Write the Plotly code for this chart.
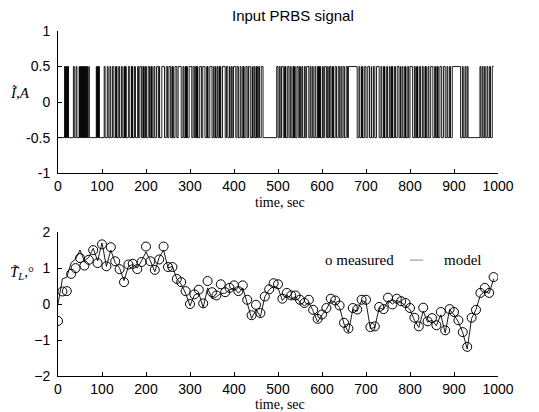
import plotly.graph_objects as go

# ---- top panel: PRBS input, switch times in sec (signal starts low, every switch toggles)
prbs_switch_t = [
    15, 16, 17, 18, 19, 20, 21, 22, 23, 24,
    35, 37, 41, 43,
    48, 49, 50, 51, 52, 53, 54, 55, 56, 57, 58, 59, 60, 61, 62, 63, 64, 65, 66, 67,
    70, 71,
    87, 88, 89, 90, 91, 92, 93, 94,
    105, 107, 112, 114, 118, 120, 124, 127, 131, 132, 133, 134, 138, 140, 144, 146,
    150, 151, 152, 153, 154, 155, 160, 163, 167, 168, 169, 170, 174, 176, 181, 183,
    186, 190, 193, 194, 195, 196, 199, 201,
    205, 208, 211, 212, 213, 214, 218, 220, 224, 228, 230, 231, 236, 242, 246, 249,
    252, 256, 259, 260, 261, 262, 266, 270, 273, 280, 284, 286, 289, 290, 291, 292,
    293, 294, 298, 304,
    307, 310, 313, 314, 315, 316, 317, 318, 322, 326, 329, 334, 338, 339, 340, 341,
    345, 350, 353, 355, 358, 359, 362, 364, 367, 368, 369, 370, 374, 380, 383, 386,
    390, 391, 394, 396, 399, 404,
    407, 410, 414, 416, 420, 421, 422, 423, 427, 430, 433, 437, 441, 442, 445, 447,
    450, 451, 452, 453, 456, 458, 462, 466, 497, 500,
    503, 505, 508, 512, 515, 516, 517, 518, 522, 525, 528, 530, 534, 535, 536, 537,
    538, 539, 543, 546, 549, 551, 554, 556, 560, 562, 565, 570, 573, 575, 578, 580,
    584, 586, 590, 591, 592, 593, 594, 595, 596, 597, 601, 603,
    606, 610, 613, 614, 617, 620, 623, 624, 625, 626, 630, 633, 637, 640, 643, 645,
    648, 651, 655, 658, 660, 680, 684, 686, 690, 691, 692, 693, 697, 700,
    704, 708, 712, 713, 717, 720, 724, 730, 734, 736, 740, 741, 742, 743, 747, 749,
    753, 755, 758, 759, 760, 761, 765, 767, 771, 775, 778, 779, 782, 784, 788, 789,
    790, 791, 795, 797,
    800, 806, 810, 812, 815, 816, 817, 818, 822, 824, 828, 830, 834, 835, 836, 837,
    841, 843, 847, 852, 856, 858, 861, 862, 863, 864, 868, 872, 876, 880, 884, 886,
    890, 892,
    896, 915, 919, 921, 925, 927, 930, 932, 959, 961, 964, 966, 969, 971, 975, 977,
    981, 983, 987,
]
prbs_end_t = 990
prbs_lo, prbs_hi = -0.5, 0.5

# ---- bottom panel: temperature response, every 10 sec
t_meas = list(range(0, 1000, 10))
measured = [
    -0.47, 0.35, 0.36, 0.84, 1.00, 1.28, 1.07, 1.23, 1.50, 1.14,
    1.66, 1.05, 1.58, 1.19, 0.97, 0.61, 1.10, 1.12, 0.97, 1.17,
    1.60, 1.19, 0.95, 1.24, 1.60, 1.03, 1.03, 0.70, 0.61, 0.36,
    0.00, 0.27, 0.40, 0.02, 0.64, 0.33, 0.24, 0.55, 0.33, 0.45,
    0.52, 0.36, 0.52, 0.12, -0.31, -0.02, -0.25, 0.21, 0.41, 0.58,
    0.55, 0.15, 0.31, 0.24, 0.24, 0.12, 0.03, 0.12, -0.16, -0.41,
    -0.29, -0.11, 0.15, 0.10, -0.04, -0.52, -0.68, -0.11, -0.15, 0.12,
    0.12, -0.64, -0.62, -0.08, -0.14, 0.18, -0.01, 0.15, 0.08, 0.03,
    -0.11, -0.38, -0.62, -0.10, -0.48, -0.39, -0.59, -0.22, -0.73, -0.14,
    -0.22, -0.45, -0.78, -1.19, -0.38, -0.16, 0.31, 0.45, 0.31, 0.75,
]
model = [
    0.00, 0.70, 0.75, 1.15, 1.25, 1.50, 1.20, 1.30, 1.55, 1.20,
    1.70, 1.05, 1.50, 1.15, 1.00, 0.65, 1.05, 1.10, 1.00, 1.20,
    1.45, 1.20, 0.90, 1.30, 1.50, 1.00, 1.05, 0.70, 0.55, 0.30,
    -0.05, 0.25, 0.30, -0.10, 0.45, 0.15, 0.20, 0.30, 0.30, 0.40,
    0.45, 0.30, 0.45, 0.05, -0.40, -0.15, -0.35, 0.20, 0.40, 0.50,
    0.45, 0.10, 0.25, 0.15, 0.20, 0.05, -0.05, 0.05, -0.20, -0.50,
    -0.30, -0.15, 0.10, 0.05, -0.10, -0.55, -0.78, -0.15, -0.20, 0.10,
    0.05, -0.68, -0.65, -0.10, -0.15, 0.10, 0.00, 0.10, 0.05, -0.05,
    -0.15, -0.45, -0.65, -0.20, -0.50, -0.45, -0.60, -0.30, -0.80, -0.15,
    -0.30, -0.50, -0.80, -1.25, -0.40, -0.15, 0.25, 0.35, 0.30, 0.70,
]

x_ticks = [0, 100, 200, 300, 400, 500, 600, 700, 800, 900, 1000]

# step trace for PRBS
px_t = [0] + prbs_switch_t + [prbs_end_t]
px_v = [prbs_lo]
for i in range(len(prbs_switch_t)):
    px_v.append(prbs_hi if i % 2 == 0 else prbs_lo)
px_v.append(px_v[-1])

fig = go.Figure()
fig.add_trace(go.Scatter(x=px_t, y=px_v, mode="lines", line=dict(color="black", width=0.9, shape="hv"),
                         xaxis="x", yaxis="y", showlegend=False))
fig.add_trace(go.Scatter(x=t_meas, y=model, mode="lines", line=dict(color="black", width=0.9),
                         xaxis="x2", yaxis="y2", showlegend=False))
fig.add_trace(go.Scatter(x=t_meas, y=measured, mode="markers",
                         marker=dict(symbol="circle-open", size=9, color="black", line=dict(width=1)),
                         xaxis="x2", yaxis="y2", showlegend=False))

tick_font = dict(family="Liberation Sans, Arial", size=14, color="black")
serif = "Liberation Serif, Times New Roman"

xax = dict(range=[0, 1000], tickvals=x_ticks, ticks="inside", ticklen=4, tickcolor="black",
           showline=True, linecolor="black", linewidth=1, showgrid=False, zeroline=False,
           tickfont=tick_font)
yax = dict(ticks="inside", ticklen=4, tickcolor="black", showline=True, linecolor="black",
           linewidth=1, showgrid=False, zeroline=False, tickfont=tick_font, ticklabelstandoff=4)

# page body has an 8px default margin, so the figure is drawn 8px smaller
fig.update_layout(
    width=531, height=404,
    margin=dict(l=50, r=41, t=23, b=36),
    paper_bgcolor="white", plot_bgcolor="white",
    xaxis=dict(xax, domain=[0, 1], anchor="y"),
    yaxis=dict(yax, domain=[0.588, 1], range=[-1, 1], tickvals=[-1, -0.5, 0, 0.5, 1],
               ticktext=["-1", "-0.5", "0", "0.5", "1"], anchor="x"),
    xaxis2=dict(xax, domain=[0, 1], anchor="y2"),
    yaxis2=dict(yax, domain=[0, 0.417], range=[-2, 2], tickvals=[-2, -1, 0, 1, 2], anchor="x2"),
)

ann = [
    dict(text="Input PRBS signal", x=0.534, y=1.046, font=dict(family="Liberation Sans, Arial", size=15)),
    dict(text="time, sec", x=0.505, y=0.503, font=dict(family=serif, size=14)),
    dict(text="time, sec", x=0.505, y=-0.084, font=dict(family=serif, size=14)),
    dict(text="<i>Ĩ,A</i>", x=-0.086, y=0.82, font=dict(family=serif, size=15)),
    dict(text="<i>T̃<sub>L</sub></i>,°", x=-0.082, y=0.30, font=dict(family=serif, size=15)),
    dict(text="o measured", x=0.602, y=0.336, xanchor="left", font=dict(family=serif, size=15)),
    dict(text="model", x=0.873, y=0.336, xanchor="left", font=dict(family=serif, size=15)),
]
for a in ann:
    a.setdefault("xanchor", "center")
    fig.add_annotation(xref="paper", yref="paper", yanchor="middle", showarrow=False,
                       font_color="black", **a)

fig.add_shape(type="line", xref="paper", yref="paper", x0=0.80, x1=0.83, y0=0.336, y1=0.336,
              line=dict(color="#888888", width=1))

fig.write_html("out.html")
